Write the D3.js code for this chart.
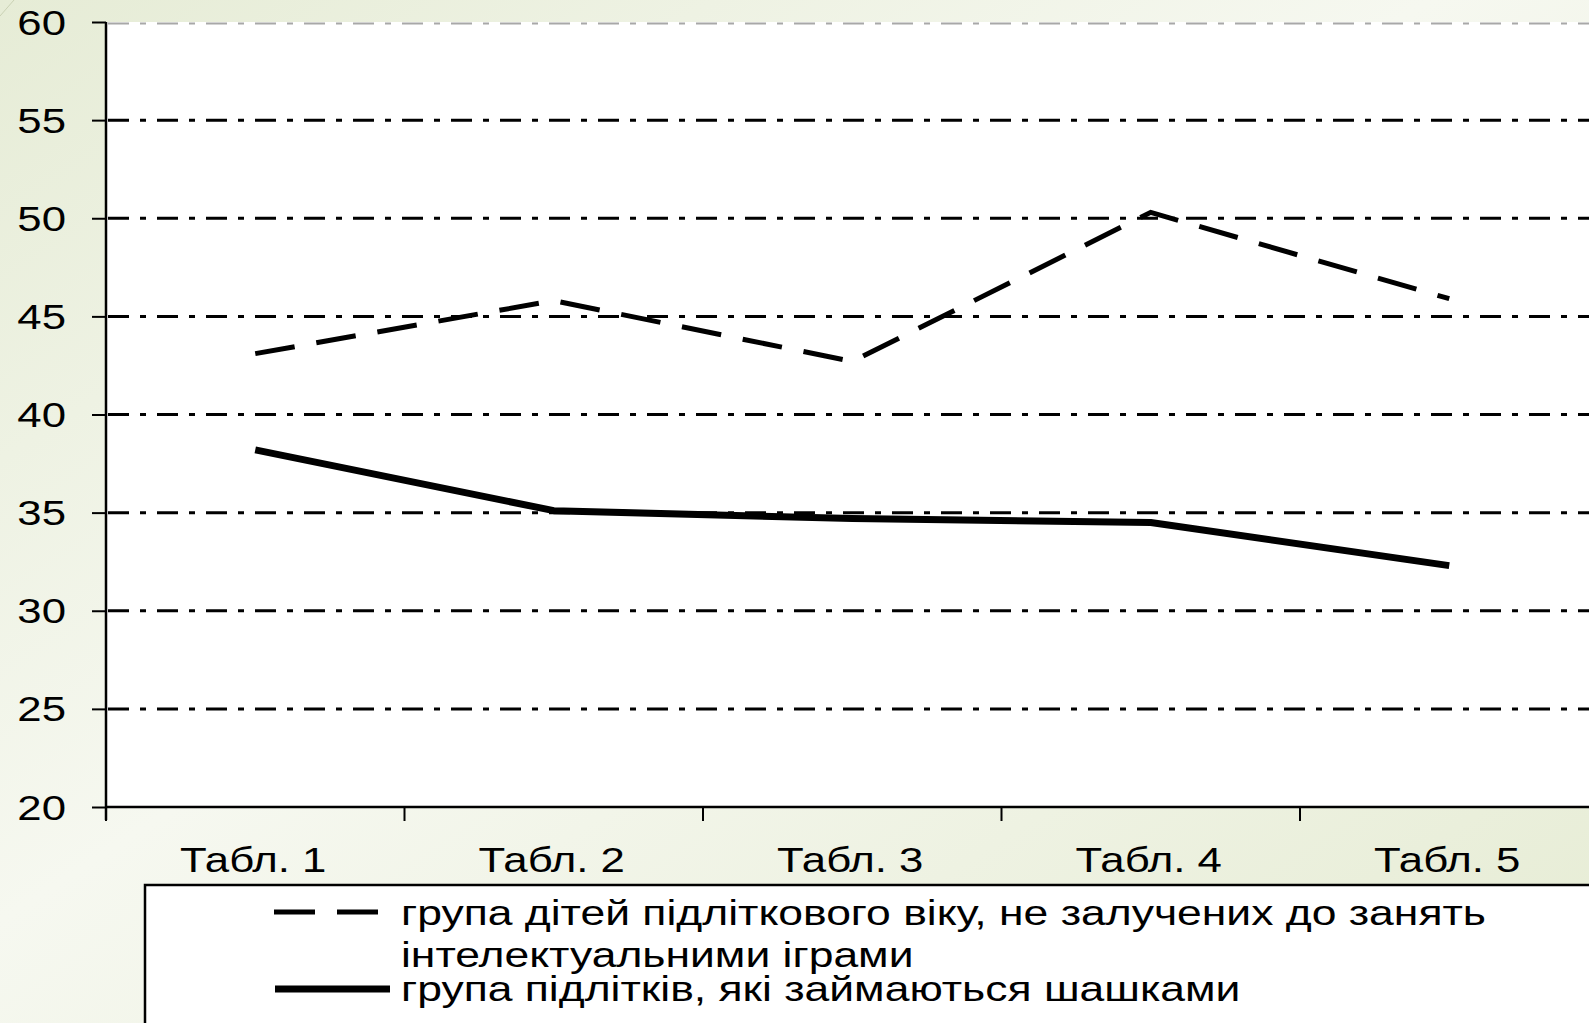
<!DOCTYPE html>
<html>
<head>
<meta charset="utf-8">
<script src="https://cdn.jsdelivr.net/npm/d3@7"></script>
<style>
  html, body { margin: 0; padding: 0; overflow: hidden; }
  svg { display: block; font-family: Arial, "Liberation Sans", sans-serif; }
</style>
</head>
<body>
<div id="chart"></div>
<script>
// values
const categories = ["Табл. 1", "Табл. 2", "Табл. 3", "Табл. 4", "Табл. 5"];
const notInvolved = [43.1, 45.8, 42.7, 50.3, 45.9];
const checkers = [38.2, 35.1, 34.7, 34.5, 32.3];
const yTicks = [20, 25, 30, 35, 40, 45, 50, 55, 60];
const legendLabels = [
  ["група дітей підліткового віку, не залучених до занять", "інтелектуальними іграми"],
  ["група підлітків, які займаються шашками"]
];

const width = 1589, height = 1023;
const plotLeft = 106, plotTop = 22, plotBottom = 807;
const stretch = 1.25; // text in the source is stretched sideways

const svg = d3.select("#chart").append("svg")
  .attr("width", width)
  .attr("height", height);

const defs = svg.append("defs");
const grad = defs.append("linearGradient")
  .attr("id", "bg").attr("x1", "0").attr("y1", "0").attr("x2", "1").attr("y2", "1");
grad.append("stop").attr("offset", "0%").attr("stop-color", "#e6ecd6");
grad.append("stop").attr("offset", "45%").attr("stop-color", "#f6f8f0");
grad.append("stop").attr("offset", "100%").attr("stop-color", "#e6ecd4");

svg.append("rect").attr("width", width).attr("height", height).attr("fill", "url(#bg)");
// little corner decoration
svg.append("line").attr("x1", 0).attr("y1", 16).attr("x2", 14).attr("y2", 0)
  .attr("stroke", "#c9d1b4").attr("stroke-width", 1);

let x = d3.scaleBand().domain(categories).range([plotLeft, plotLeft + 298.5 * 5]);
let y = d3.scaleLinear().domain([20, 60]).range([plotBottom, plotTop]);

// white plot area
svg.append("rect")
  .attr("x", plotLeft).attr("y", plotTop)
  .attr("width", width - plotLeft).attr("height", plotBottom - plotTop)
  .attr("fill", "#fff");

// grid lines
svg.append("g").selectAll("line")
  .data(yTicks.filter(d => d > 20))
  .join("line")
  .attr("x1", plotLeft + 2).attr("x2", width)
  .attr("y1", d => d === 60 ? y(d) + 1.5 : y(d))
  .attr("y2", d => d === 60 ? y(d) + 1.5 : y(d))
  .attr("stroke", d => d === 60 ? "#a8a8a8" : "#000")
  .attr("stroke-width", d => d === 60 ? 2 : 3)
  .attr("stroke-dasharray", "21,11,6,11");

// y axis
const yAxis = svg.append("g")
  .attr("transform", `translate(${plotLeft},0)`)
  .call(d3.axisLeft(y).tickValues(yTicks).tickSize(14).tickFormat(""));
yAxis.select(".domain").attr("d", `M0,${plotTop}V${plotBottom + 13}`).attr("stroke-width", 2.5);
yAxis.selectAll(".tick line").attr("stroke-width", 2);

svg.append("g").selectAll("text")
  .data(yTicks)
  .join("text")
  .attr("transform", d => `translate(66,${y(d) + 12.5}) scale(${stretch},1)`)
  .attr("text-anchor", "end")
  .attr("font-size", 35)
  .attr("fill", "#000")
  .text(d => d);

// x axis
const xTickPos = categories.map(c => x(c)).concat([x(categories[4]) + x.bandwidth()]);
svg.append("line")
  .attr("x1", plotLeft).attr("x2", width).attr("y1", plotBottom).attr("y2", plotBottom)
  .attr("stroke", "#000").attr("stroke-width", 2.5);
svg.append("g").selectAll("line")
  .data(xTickPos)
  .join("line")
  .attr("x1", d => d).attr("x2", d => d)
  .attr("y1", plotBottom).attr("y2", plotBottom + 14)
  .attr("stroke", "#000").attr("stroke-width", 2);

svg.append("g").selectAll("text")
  .data(categories)
  .join("text")
  .attr("transform", d => `translate(${x(d) + x.bandwidth() / 2 - 2},872) scale(${stretch},1)`)
  .attr("text-anchor", "middle")
  .attr("font-size", 35)
  .attr("fill", "#000")
  .text(d => d);

// series
const line = d3.line()
  .x((d, i) => x(categories[i]) + x.bandwidth() / 2)
  .y(d => y(d));

svg.append("path")
  .datum(notInvolved)
  .attr("d", line)
  .attr("fill", "none")
  .attr("stroke", "#000")
  .attr("stroke-width", 5)
  .attr("stroke-dasharray", "40,22");

svg.append("path")
  .datum(checkers)
  .attr("d", line)
  .attr("fill", "none")
  .attr("stroke", "#000")
  .attr("stroke-width", 7)
  .attr("stroke-linejoin", "round");

// legend
const legend = svg.append("g");
legend.append("rect")
  .attr("x", 145).attr("y", 885)
  .attr("width", width).attr("height", 200)
  .attr("fill", "#fff")
  .attr("stroke", "#000").attr("stroke-width", 2.5);

legend.append("line")
  .attr("x1", 274).attr("x2", 378).attr("y1", 912).attr("y2", 912)
  .attr("stroke", "#000").attr("stroke-width", 5)
  .attr("stroke-dasharray", "41,22");
legend.append("line")
  .attr("x1", 275).attr("x2", 390).attr("y1", 989).attr("y2", 989)
  .attr("stroke", "#000").attr("stroke-width", 7);

const legendLines = [
  { text: legendLabels[0][0], y: 925 },
  { text: legendLabels[0][1], y: 967 },
  { text: legendLabels[1][0], y: 1001 }
];
legend.selectAll("text.lg")
  .data(legendLines)
  .join("text")
  .attr("class", "lg")
  .attr("transform", d => `translate(401,${d.y}) scale(1.27,1)`)
  .attr("font-size", 35)
  .attr("fill", "#000")
  .text(d => d.text);
</script>
</body>
</html>
